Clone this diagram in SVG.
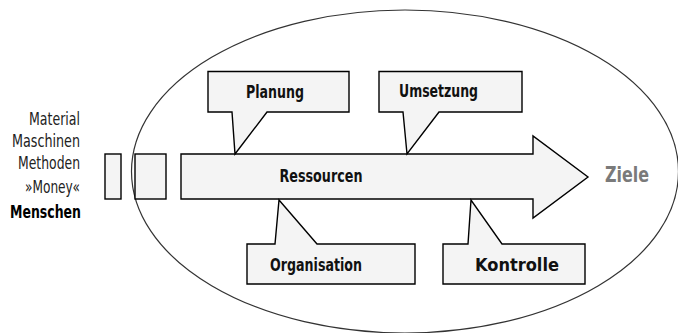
<svg xmlns="http://www.w3.org/2000/svg" width="678" height="333" viewBox="0 0 678 333">
<style>
.shape{fill:#f4f4f4;stroke:#000;stroke-width:1.4;stroke-linejoin:miter}
.lbl{font-family:"Liberation Sans Narrow","DejaVu Sans Condensed","Liberation Sans",sans-serif;font-weight:bold;font-size:18px;fill:#111;text-anchor:middle}
.side{font-family:"Liberation Sans Narrow","DejaVu Sans Condensed","Liberation Sans",sans-serif;font-size:17.5px;fill:#222;text-anchor:end}
.big{font-size:21px;fill:#7a7a7a}
.bold{font-weight:bold;fill:#000}
</style>
<rect width="678" height="333" fill="#fff"/>
<g id="scope">
<ellipse cx="405" cy="171.5" rx="273.5" ry="161.5" fill="none" stroke="#333" stroke-width="1.2"/>
</g>
<g id="inputs">
<text class="side" x="80" y="125" textLength="51" lengthAdjust="spacingAndGlyphs">Material</text>
<text class="side" x="80" y="147" textLength="68" lengthAdjust="spacingAndGlyphs">Maschinen</text>
<text class="side" x="80" y="169" textLength="62" lengthAdjust="spacingAndGlyphs">Methoden</text>
<text class="side" x="80" y="193" textLength="55" lengthAdjust="spacingAndGlyphs">»Money«</text>
<text class="side bold" x="81" y="218" textLength="71" lengthAdjust="spacingAndGlyphs">Menschen</text>
</g>
<g id="blocks">
<rect class="shape" x="105" y="154" width="16" height="45"/>
<rect class="shape" x="135" y="154" width="31" height="45"/>
</g>
<g id="ressourcen">
<path class="shape" d="M181,154 H533 V136 L588,177 L533,218 V199 H181 Z"/>
<text class="lbl" x="321" y="182" textLength="83" lengthAdjust="spacingAndGlyphs">Ressourcen</text>
</g>
<g id="planung">
<path class="shape" d="M208,71.5 H349 V112 H267 L235,154 L232,112 H208 Z"/>
<text class="lbl" x="275" y="98" textLength="58" lengthAdjust="spacingAndGlyphs">Planung</text>
</g>
<g id="umsetzung">
<path class="shape" d="M379,71.5 H522 V112 H439 L407,154 L403,112 H379 Z"/>
<text class="lbl" x="438.5" y="97" textLength="79" lengthAdjust="spacingAndGlyphs">Umsetzung</text>
</g>
<g id="organisation">
<path class="shape" d="M247,244 H275 L279,200 L317,244 H415 V284 H247 Z"/>
<text class="lbl" x="316" y="271" textLength="92" lengthAdjust="spacingAndGlyphs">Organisation</text>
</g>
<g id="kontrolle">
<path class="shape" d="M443,244 H468 L471,200 L502,244 H585 V284 H443 Z"/>
<text class="lbl" x="517" y="271" textLength="84" lengthAdjust="spacingAndGlyphs">Kontrolle</text>
</g>
<g id="ziele">
<text class="lbl big" x="627" y="182" textLength="44" lengthAdjust="spacingAndGlyphs">Ziele</text>
</g>
<g id="connectors"></g>
</svg>
